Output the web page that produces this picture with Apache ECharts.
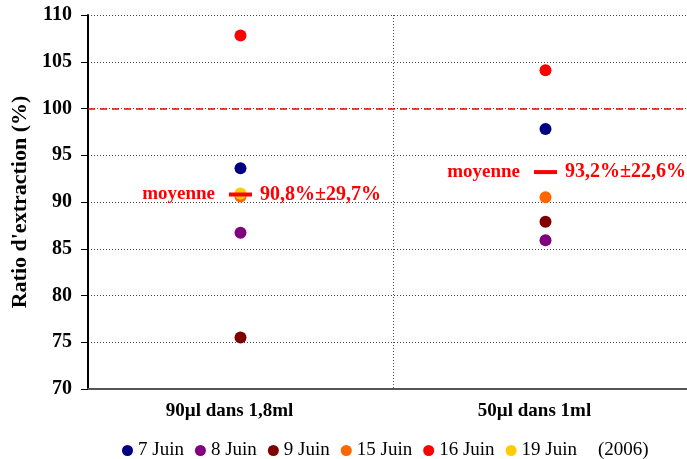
<!DOCTYPE html>
<html><head><meta charset="utf-8">
<script src="https://cdn.jsdelivr.net/npm/echarts@6/dist/echarts.min.js"></script>
<style>html,body{margin:0;padding:0;background:#fff;overflow:hidden}#c{width:698px;height:459px}</style>
</head><body><div id="c"></div>
<script>
const categories = ['90µl dans 1,8ml', '50µl dans 1ml'];
const seriesNames = ['7 Juin', '8 Juin', '9 Juin', '15 Juin', '16 Juin', '19 Juin'];
const seriesColors = ['#000080', '#800080', '#800000', '#FF6600', '#FF0000', '#FFCC00'];
const juin7 = [93.6, 97.8];
const juin8 = [86.7, 85.9];
const juin9 = [75.5, 87.9];
const juin15 = [90.6, 90.5];
const juin16 = [107.8, 104.1];
const juin19 = [90.9, null];
const means = [90.8, 93.2];
const meanTexts = ['90,8%±29,7%', '93,2%±22,6%'];
const meanLabel = 'moyenne';
const refLine = 100;
const yTicks = [70, 75, 80, 85, 90, 95, 100, 105, 110];

const allValues = [juin7, juin8, juin9, juin15, juin16, juin19];
const serif = '"Liberation Serif","DejaVu Serif",serif';

const series = seriesNames.map((n, i) => ({
  name: n, type: 'scatter', symbol: 'circle', symbolSize: 12,
  itemStyle: { color: seriesColors[i], opacity: 1 },
  data: allValues[i].map((v, j) => v == null ? null : [j, v]).filter(d => d),
  z: 3 + i
}));
series[0].markLine = {
  silent: true, symbol: 'none', label: { show: false },
  lineStyle: { color: '#FF0000', type: [7, 5], width: 1.5, opacity: 1 },
  data: [{ yAxis: refLine }]
};
series.push({
  name: 'mean', type: 'scatter', symbol: 'rect', symbolSize: [23, 4],
  itemStyle: { color: '#FF0000', opacity: 1 }, z: 20,
  data: means.map((v, j) => [j, v]),
  label: { show: true, position: 'right', distance: 8, color: '#FF0000',
    fontFamily: serif, fontWeight: 'bold', fontSize: 20,
    formatter: p => meanTexts[p.dataIndex] }
});
series.push({
  name: 'meanLabel', type: 'scatter', symbol: 'rect', symbolSize: [23, 4],
  itemStyle: { color: 'rgba(255,255,255,0)', opacity: 1 }, z: 20,
  data: means.map((v, j) => [j, v]),
  label: { show: true, position: 'left', distance: 14, color: '#FF0000', opacity: 1,
    fontFamily: serif, fontWeight: 'bold', fontSize: 19,
    formatter: () => meanLabel }
});

const chart = echarts.init(document.getElementById('c'), null, { renderer: 'canvas' });
chart.setOption({
  animation: false,
  backgroundColor: '#fff',
  grid: { left: 88, top: 15, right: 0, height: 374, containLabel: false },
  legend: {
    data: seriesNames, left: 117, top: 436, icon: 'circle', itemWidth: 11, itemHeight: 11,
    itemGap: 11, textStyle: { fontFamily: serif, fontSize: 19, color: '#000' }
  },
  graphic: [{ type: 'text', left: 598, top: 441, style: { text: '(2006)', font: '19px ' + serif, fill: '#000' } }],
  xAxis: {
    type: 'category', data: categories, boundaryGap: true,
    axisLine: { lineStyle: { color: '#555', width: 2 } },
    axisTick: { show: false },
    axisLabel: { fontFamily: serif, fontWeight: 'bold', fontSize: 19, color: '#000', margin: 13,
      padding: [0, 22, 0, 0] },
    splitLine: { show: true, lineStyle: { color: '#555', type: [1, 2], width: 1 } }
  },
  yAxis: {
    type: 'value', min: 70, max: 110, interval: 5,
    name: "Ratio d'extraction (%)", nameLocation: 'middle', nameGap: 52, nameRotate: 90,
    nameTextStyle: { fontFamily: serif, fontWeight: 'bold', fontSize: 22, color: '#000' },
    axisLine: { show: true, lineStyle: { color: '#000', width: 2 } },
    axisTick: { show: true, length: 7, lineStyle: { color: '#000' } },
    axisLabel: { fontFamily: serif, fontWeight: 'bold', fontSize: 20, margin: 16,
      color: v => v === refLine ? '#FF0000' : '#000',
      formatter: v => yTicks.includes(v) ? String(v) : '' },
    splitLine: { show: true, lineStyle: { color: '#444', type: [1, 2], width: 1 } }
  },
  series
});
</script></body></html>
